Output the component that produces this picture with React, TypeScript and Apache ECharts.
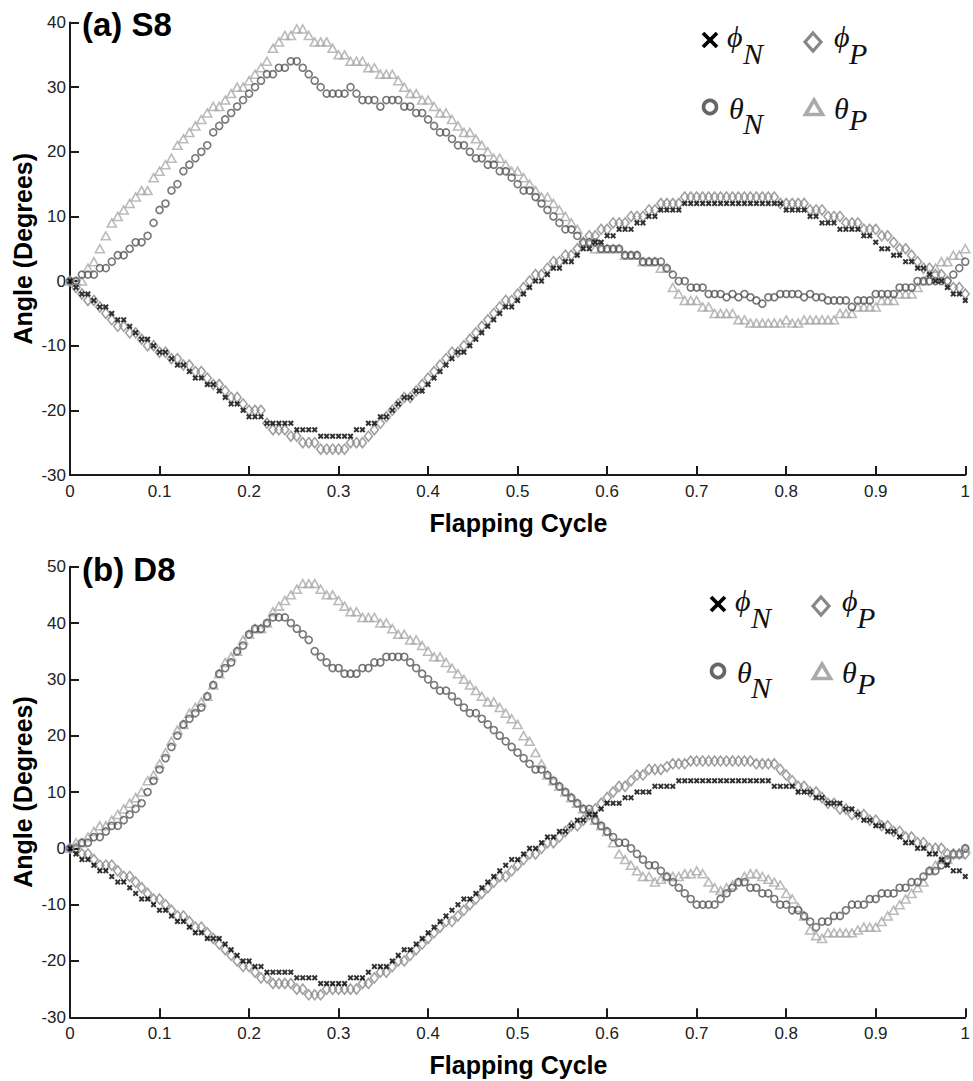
import React, { useEffect, useRef } from "react";
import * as echarts from "echarts";

// ---------- data (sampled flapping cycle, 151 samples from 0 to 1) ----------
const SAMPLES = 151;

const panelTitles = ["(a) S8", "(b) D8"];
const xTitle = "Flapping Cycle";
const yTitle = "Angle (Degrees)";
const yMin = [-30, -30];
const yMax = [40, 50];

// Panel (a) S8
const phiN_S8 = [
  0, -1, -2, -2, -3, -4, -4, -5, -6, -6,
  -7, -8, -9, -9, -10, -11, -11, -12, -13, -13,
  -14, -15, -15, -16, -16, -17, -18, -19, -19, -20,
  -21, -21, -21, -22, -22, -22, -22, -22, -23, -23,
  -23, -23, -24, -24, -24, -24, -24, -24, -23, -23,
  -22, -22, -21, -21, -20, -19, -18, -18, -17, -17,
  -16, -15, -14, -13, -12, -11, -11, -10, -9, -8,
  -7, -6, -5, -4, -4, -3, -2, -1, 0, 0,
  1, 2, 2, 3, 3, 4, 5, 5, 6, 6,
  7, 7, 8, 8, 8, 9, 9, 10, 10, 11,
  11, 11, 11, 12, 12, 12, 12, 12, 12, 12,
  12, 12, 12, 12, 12, 12, 12, 12, 12, 12,
  11, 11, 11, 11, 10, 10, 9, 9, 9, 8,
  8, 8, 8, 7, 7, 6, 5, 5, 4, 4,
  3, 3, 2, 2, 1, 0, 0, -1, -2, -2,
  -3,
];
const phiP_S8 = [
  0, -1, -2, -3, -3, -4, -5, -6, -7, -7,
  -8, -8, -9, -10, -10, -11, -11, -12, -12, -13,
  -13, -14, -14, -15, -16, -16, -17, -18, -18, -19,
  -20, -20, -20, -22, -23, -23, -23, -24, -24, -25,
  -25, -25, -26, -26, -26, -26, -26, -25, -25, -25,
  -24, -23, -22, -21, -20, -19, -18, -18, -17, -16,
  -15, -14, -13, -12, -11, -11, -10, -9, -8, -7,
  -6, -5, -4, -3, -3, -2, -1, 0, 1, 1,
  2, 3, 3, 4, 4, 5, 6, 7, 7, 8,
  8, 9, 9, 9, 10, 10, 10, 11, 11, 12,
  12, 12, 12, 13, 13, 13, 13, 13, 13, 13,
  13, 13, 13, 13, 13, 13, 13, 13, 13, 12,
  12, 12, 12, 12, 11, 11, 11, 10, 10, 10,
  9, 9, 9, 8, 8, 8, 7, 7, 6, 5,
  5, 4, 3, 2, 2, 1, 1, 0, -1, -1,
  -2,
];
const thetaN_S8 = [
  0, 0, 1, 1, 1, 2, 2, 3, 4, 4,
  5, 6, 6, 7, 9, 11, 12, 14, 15, 17,
  18, 19, 20, 21, 23, 24, 25, 26, 27, 28,
  29, 30, 31, 32, 32, 33, 33, 34, 34, 33,
  32, 31, 30, 29, 29, 29, 29, 30, 29, 28,
  28, 28, 27, 28, 28, 28, 27, 27, 26, 26,
  25, 24, 23, 23, 22, 21, 21, 20, 19, 19,
  18, 18, 17, 17, 16, 15, 14, 14, 13, 12,
  11, 10, 9, 8, 8, 7, 6, 6, 6, 5,
  5, 5, 5, 4, 4, 4, 3, 3, 3, 3,
  2, 1, 0, 0, -1, -1, -1, -2, -2, -2,
  -2.5, -2, -2.5, -2, -2.5, -3, -3.5, -2.5, -2.5, -2,
  -2, -2, -2, -2.5, -2, -2.5, -2.5, -3, -3, -3,
  -3, -4, -3, -3, -3, -2, -2, -2, -2, -1,
  -1, -1, 0, 0, 0, 0, 0, 0, 1, 2,
  3,
];
const thetaP_S8 = [
  0, 0, 0, 2, 3, 5, 7, 9, 10, 11,
  12, 13, 14, 14, 16, 17, 18, 19, 21, 22,
  23, 24, 25, 26, 27, 27, 28, 29, 30, 30,
  31, 32, 33, 34, 36, 37, 38, 38, 39, 39,
  38, 37, 37, 37, 36, 35, 35, 34, 34, 34,
  33, 33, 32, 32, 32, 31, 30, 29, 29, 28,
  28, 27, 26, 26, 25, 24, 23, 23, 22, 21,
  20, 19, 19, 18, 17, 17, 16, 15, 14, 13,
  13, 12, 11, 10, 9, 8, 6, 6, 5, 5,
  5, 5, 5, 4, 4, 4, 3, 3, 3, 2,
  2, -1, -2, -3, -3, -3, -4, -4, -5, -5,
  -5, -5, -6, -6, -6.5, -6.5, -6.5, -6.5, -6.5, -6.5,
  -6, -6.5, -6.5, -6, -6, -6, -6, -6, -6, -5,
  -5, -5, -4, -4, -4, -4, -3, -3, -3, -2,
  -2, -2, -1, 0, 1, 2, 3, 3, 4, 4,
  5,
];

// Panel (b) D8
const phiN_D8 = [
  0, -1, -2, -2, -3, -4, -4, -5, -6, -6,
  -7, -8, -9, -9, -10, -11, -11, -12, -13, -13,
  -14, -15, -15, -16, -16, -16, -17, -18, -19, -20,
  -20, -21, -21, -22, -22, -22, -22, -22, -23, -23,
  -23, -23, -24, -24, -24, -24, -24, -23, -23, -23,
  -22, -21, -21, -21, -20, -19, -18, -18, -17, -16,
  -15, -14, -13, -12, -11, -10, -9, -9, -8, -7,
  -6, -5, -4, -3, -2, -2, -1, 0, 0, 1,
  2, 2, 3, 3, 4, 5, 5, 6, 6, 7,
  8, 8, 8, 9, 9, 10, 10, 10, 11, 11,
  11, 11, 12, 12, 12, 12, 12, 12, 12, 12,
  12, 12, 12, 12, 12, 12, 12, 12, 11, 11,
  11, 11, 10, 10, 10, 9, 9, 8, 8, 8,
  7, 7, 6, 5, 5, 4, 4, 3, 3, 2,
  1, 1, 0, 0, -1, -1, -2, -3, -4, -4,
  -5,
];
const phiP_D8 = [
  0, 0, -1, -1, -2, -3, -3, -3, -4, -5,
  -5, -6, -7, -8, -9, -9, -10, -11, -12, -12,
  -13, -14, -14, -15, -16, -17, -18, -19, -20, -21,
  -21, -22, -23, -23, -24, -24, -24, -24, -25, -25,
  -26, -26, -26, -25, -25, -25, -25, -25, -25, -24,
  -24, -23, -22, -22, -21, -20, -20, -19, -18, -17,
  -16, -15, -14, -13, -13, -12, -11, -10, -9, -8,
  -7, -6, -5, -5, -4, -3, -2, -1, -1, 0,
  1, 1, 2, 3, 4, 4, 5, 6, 7, 8,
  9, 10, 11, 11, 12, 13, 13, 14, 14, 14,
  14.5, 15, 15, 15, 15.5, 15.5, 15.5, 15.5, 15.5, 15.5,
  15.5, 15.5, 15.5, 15.5, 15.5, 15, 15, 15, 15, 14,
  13, 12, 11, 11, 10, 10, 9, 8, 8, 7,
  7, 6, 6, 6, 5, 5, 4, 4, 3, 3,
  2, 2, 1, 1, 0, 0, 0, -1, -1, -1,
  -1,
];
const thetaN_D8 = [
  0, 0, 1, 1, 2, 2, 3, 4, 4, 5,
  6, 7, 8, 10, 12, 14, 16, 18, 20, 22,
  23, 24, 25, 27, 29, 31, 32, 33, 35, 36,
  38, 39, 39, 40, 41, 41, 41, 40, 39, 38,
  37, 35, 34, 33, 32, 32, 31, 31, 31, 32,
  32, 33, 33, 34, 34, 34, 34, 33, 32, 31,
  30, 29, 28, 28, 27, 26, 25, 24, 24, 23,
  22, 21, 20, 19, 18, 17, 16, 15, 14, 14,
  13, 12, 11, 10, 9, 8, 7, 7, 5, 4,
  3, 2, 1, 1, 0, -1, -2, -3, -3, -4,
  -5, -6, -7, -8, -9, -10, -10, -10, -10, -9,
  -8, -7, -6, -6, -7, -7, -8, -8, -9, -10,
  -10, -11, -11, -12, -13, -14, -13, -13, -12, -12,
  -11, -10, -10, -10, -9, -9, -8, -8, -8, -7,
  -7, -6, -6, -5, -4, -4, -3, -2, -1, -1,
  0,
];
const thetaP_D8 = [
  0, 1, 1, 2, 3, 4, 4, 5, 6, 7,
  8, 9, 10, 12, 13, 15, 17, 19, 21, 22,
  24, 25, 26, 27, 29, 31, 33, 34, 35, 37,
  38, 39, 39, 40, 42, 43, 44, 45, 46, 47,
  47, 47, 46, 45, 45, 44, 43, 42, 42, 41,
  41, 41, 40, 40, 39, 38, 38, 37, 37, 36,
  35, 34, 34, 33, 32, 31, 30, 29, 28, 27,
  26, 26, 25, 24, 23, 22, 20, 19, 17, 15,
  13, 12, 11, 10, 9, 8, 7, 6, 5, 4,
  3, 1, -1, -2, -3, -4, -5, -5, -6, -5.5,
  -5, -5, -5, -4.5, -4.5, -4, -4.5, -6, -7, -7.5,
  -7, -6.5, -6, -5, -4.5, -4.5, -5, -5.5, -6, -6.5,
  -8, -9, -10.5, -12, -14.5, -15.5, -16, -15, -15, -15,
  -15, -15, -14.5, -14, -14, -14, -13, -12, -11, -10,
  -9, -8, -7, -6, -4, -3, -2, -2, -1, -1,
  0,
];

const panels = [
  { phiN: phiN_S8, phiP: phiP_S8, thetaN: thetaN_S8, thetaP: thetaP_S8 },
  { phiN: phiN_D8, phiP: phiP_D8, thetaN: thetaN_D8, thetaP: thetaP_D8 },
];

// ---------- styling ----------
const SANS = '"Liberation Sans", Arial, Helvetica, sans-serif';
const SERIF = '"Liberation Serif", "Times New Roman", "DejaVu Serif", serif';
const AXIS_COLOR = "#1a1a1a";
const C_CROSS = "#000000";
const C_DIAMOND = "#888888";
const C_CIRCLE = "#555555";
const C_TRIANGLE = "#aaaaaa";
const CROSS_PATH = "path://M0,2.4L2.4,0L5,2.6L7.6,0L10,2.4L7.4,5L10,7.6L7.6,10L5,7.4L2.4,10L0,7.6L2.6,5Z";

const GRIDS = [
  { left: 70, right: 6, top: 22.5, height: 452.5 },
  { left: 70, right: 6, top: 566.7, height: 450.6 },
];

function toPoints(arr: number[]) {
  return arr.map((v, i) => [i / (SAMPLES - 1), v]);
}

function legendGraphics(ox: number, oy: number) {
  const sym = (t: string, x: number, y: number) => ({
    type: "text",
    x: x + ox,
    y: y + oy,
    silent: true,
    style: {
      text: t,
      font: `italic 30px ${SERIF}`,
      fill: "#111",
      textAlign: "left",
      textVerticalAlign: "middle",
    },
  });
  return [
    { type: "line", silent: true, shape: { x1: 703 + ox, y1: 33 + oy, x2: 717 + ox, y2: 47 + oy }, style: { stroke: "#000", lineWidth: 3.8 } },
    { type: "line", silent: true, shape: { x1: 717 + ox, y1: 33 + oy, x2: 703 + ox, y2: 47 + oy }, style: { stroke: "#000", lineWidth: 3.8 } },
    sym("ϕ", 727, 36),
    sym("N", 743, 53),
    { type: "polygon", silent: true, shape: { points: [[813 + ox, 33 + oy], [821 + ox, 42 + oy], [813 + ox, 51 + oy], [805 + ox, 42 + oy]] }, style: { fill: "none", stroke: C_DIAMOND, lineWidth: 3.2 } },
    sym("ϕ", 834, 36),
    sym("P", 849, 53),
    { type: "circle", silent: true, shape: { cx: 710 + ox, cy: 107 + oy, r: 6.5 }, style: { fill: "none", stroke: "#666", lineWidth: 3.6 } },
    sym("θ", 729, 108),
    sym("N", 743, 123),
    { type: "polygon", silent: true, shape: { points: [[814 + ox, 100 + oy], [822.5 + ox, 114.5 + oy], [805.5 + ox, 114.5 + oy]] }, style: { fill: "none", stroke: C_TRIANGLE, lineWidth: 3.6 } },
    sym("θ", 834, 108),
    sym("P", 849, 119),
  ];
}

function buildOption() {
  const series: any[] = [];
  panels.forEach((p, k) => {
    series.push({
      name: "θP",
      type: "scatter",
      xAxisIndex: k,
      yAxisIndex: k,
      data: toPoints(p.thetaP),
      symbol: "triangle",
      symbolSize: [9, 8],
      clip: false,
      silent: true,
      z: 2,
      itemStyle: { color: "rgba(0,0,0,0)", borderColor: C_TRIANGLE, borderWidth: 1.6 },
    });
    series.push({
      name: "θN",
      type: "scatter",
      xAxisIndex: k,
      yAxisIndex: k,
      data: toPoints(p.thetaN),
      symbol: "circle",
      symbolSize: 7,
      clip: false,
      silent: true,
      z: 3,
      itemStyle: { color: "rgba(0,0,0,0)", borderColor: C_CIRCLE, borderWidth: 1.6 },
    });
    series.push({
      name: "φP",
      type: "scatter",
      xAxisIndex: k,
      yAxisIndex: k,
      data: toPoints(p.phiP),
      symbol: "diamond",
      symbolSize: [8, 10],
      clip: false,
      silent: true,
      z: 4,
      itemStyle: { color: "rgba(0,0,0,0)", borderColor: C_DIAMOND, borderWidth: 1.6 },
    });
    series.push({
      name: "φN",
      type: "scatter",
      xAxisIndex: k,
      yAxisIndex: k,
      data: toPoints(p.phiN),
      symbol: CROSS_PATH,
      symbolSize: 6,
      clip: false,
      silent: true,
      z: 5,
      itemStyle: { color: C_CROSS, borderWidth: 0 },
    });
  });

  const graphics: any[] = [];
  GRIDS.forEach((g, k) => {
    const mid = g.top + g.height / 2;
    const bottom = g.top + g.height;
    graphics.push({
      type: "text",
      x: 82,
      y: k === 0 ? 24 : 569,
      silent: true,
      style: { text: panelTitles[k], font: `bold 33px ${SANS}`, fill: "#000", textAlign: "left", textVerticalAlign: "middle" },
    });
    graphics.push({
      type: "text",
      x: 23,
      y: mid,
      rotation: Math.PI / 2,
      silent: true,
      style: { text: yTitle, font: `bold 25px ${SANS}`, fill: "#000", textAlign: "center", textVerticalAlign: "middle" },
    });
    graphics.push({
      type: "text",
      x: 518.5,
      y: bottom + 48,
      silent: true,
      style: { text: xTitle, font: `bold 25px ${SANS}`, fill: "#000", textAlign: "center", textVerticalAlign: "middle" },
    });
  });
  graphics.push(...legendGraphics(0, 0));
  graphics.push(...legendGraphics(8, 564));

  return {
    animation: false,
    backgroundColor: "#ffffff",
    grid: GRIDS,
    xAxis: GRIDS.map((_, k) => ({
      gridIndex: k,
      type: "value",
      min: 0,
      max: 1,
      interval: 0.1,
      axisLine: { show: true, onZero: false, lineStyle: { color: AXIS_COLOR, width: 2 } },
      axisTick: { show: true, inside: true, length: 9, lineStyle: { color: AXIS_COLOR, width: 2 } },
      axisLabel: { margin: 8, fontSize: 17, color: "#222", fontFamily: SANS },
      splitLine: { show: false },
    })),
    yAxis: GRIDS.map((_, k) => ({
      gridIndex: k,
      type: "value",
      min: yMin[k],
      max: yMax[k],
      interval: 10,
      axisLine: { show: true, onZero: false, lineStyle: { color: AXIS_COLOR, width: 2 } },
      axisTick: { show: true, inside: true, length: 9, lineStyle: { color: AXIS_COLOR, width: 2 } },
      axisLabel: { margin: 4, fontSize: 17, color: "#222", fontFamily: SANS },
      splitLine: { show: false },
    })),
    series,
    graphic: graphics,
  };
}

export default function App() {
  const ref = useRef<HTMLDivElement>(null);
  useEffect(() => {
    if (!ref.current) return;
    const chart = echarts.init(ref.current, undefined, { renderer: "svg" });
    chart.setOption(buildOption() as any);
    return () => chart.dispose();
  }, []);
  return (
    <div
      ref={ref}
      style={{ position: "absolute", left: 0, top: 0, width: 973, height: 1081, background: "#fff" }}
    />
  );
}
